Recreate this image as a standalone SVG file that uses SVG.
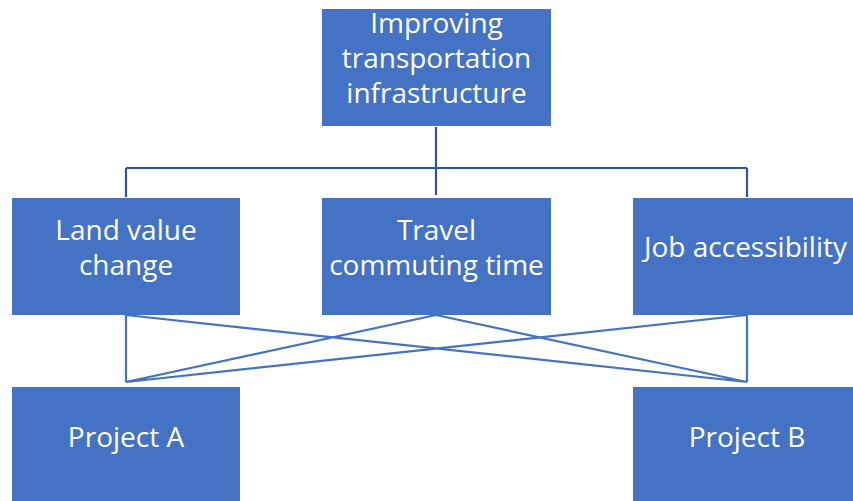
<svg xmlns="http://www.w3.org/2000/svg" width="853" height="501" viewBox="0 0 853 501">
  <style>
    .box { fill: #4472C4; }
    .label { fill: #FFFFFF; font-family: "Open Sans", "Liberation Sans", Arial, sans-serif; font-size: 28px; text-anchor: middle; }
    .tree { stroke: #2F5597; stroke-width: 2.2; fill: none; }
    .link { stroke: #4472C4; stroke-width: 2.2; fill: none; }
  </style>
  <rect width="853" height="501" fill="#FFFFFF"/>

  <g id="connectors">
    <!-- goal to criteria -->
    <path class="tree" d="M436 127 V195 M126 168 H747 M126 168 V197 M747 168 V197"/>
    <!-- criteria to alternatives -->
    <path class="link" d="M126 315 L126 382 M126 315 L747 382 M436 315 L126 382 M436 315 L747 382 M747 315 L126 382 M747 315 L747 382"/>
  </g>

  <g id="goal">
    <rect class="box" x="322" y="9" width="229" height="117"/>
    <text class="label" x="436.5" y="33">Improving</text>
    <text class="label" x="436.5" y="68">transportation</text>
    <text class="label" x="436.5" y="103">infrastructure</text>
  </g>

  <g id="land-value">
    <rect class="box" x="12" y="198" width="228" height="117"/>
    <text class="label" x="126" y="240">Land value</text>
    <text class="label" x="126" y="275">change</text>
  </g>

  <g id="travel-time">
    <rect class="box" x="322" y="198" width="229" height="117"/>
    <text class="label" x="436.5" y="240">Travel</text>
    <text class="label" x="436.5" y="275">commuting time</text>
  </g>

  <g id="job-access">
    <rect class="box" x="633" y="198" width="229" height="117"/>
    <text class="label" x="745.5" y="257">Job accessibility</text>
  </g>

  <g id="project-a">
    <rect class="box" x="12" y="387" width="228" height="120"/>
    <text class="label" x="126" y="447">Project A</text>
  </g>

  <g id="project-b">
    <rect class="box" x="633" y="387" width="229" height="120"/>
    <text class="label" x="747" y="447">Project B</text>
  </g>
</svg>
